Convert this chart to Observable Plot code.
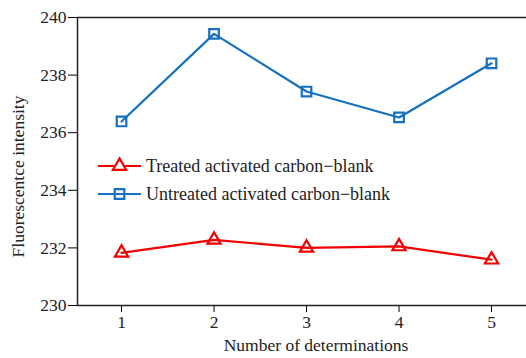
<!DOCTYPE html>
<html><head><meta charset="utf-8">
<script src="https://cdn.jsdelivr.net/npm/d3@7"></script>
<script src="https://cdn.jsdelivr.net/npm/@observablehq/plot@0.6"></script>
<style>
body{margin:0;background:#fff;}
#wrap{position:relative;width:526px;height:358px;font-family:"Liberation Serif","DejaVu Serif",serif;}
#legend{position:absolute;left:98px;top:152px;font-size:18px;color:#222;}
.row{display:flex;align-items:center;height:28px;}
.row svg{margin-right:5px;}
</style></head>
<body><div id="wrap"><div id="chart"></div><div id="legend"></div></div>
<script>
const determinations = [1, 2, 3, 4, 5];
const treated = [231.83, 232.28, 232.0, 232.05, 231.59];
const untreated = [236.39, 239.43, 237.43, 236.53, 238.41];
const seriesNames = ["Treated activated carbon\u2212blank", "Untreated activated carbon\u2212blank"];
const seriesColors = ["#f00000", "#1570be"];
const seriesSymbols = ["triangle", "square"];
const seriesRadius = [4.9, 5.4];
const yTicks = [230, 232, 234, 236, 238, 240];
const xDomain = [0.524, 5.378];
const yDomain = [230, 240];

const rows = [];
determinations.forEach((d, i) => {
  rows.push({n: d, v: treated[i], s: seriesNames[0], r: seriesRadius[0]});
  rows.push({n: d, v: untreated[i], s: seriesNames[1], r: seriesRadius[1]});
});

const serif = "Liberation Serif, DejaVu Serif, serif";
const chart = Plot.plot({
  width: 526, height: 358,
  marginLeft: 77, marginRight: 0, marginTop: 17, marginBottom: 53,
  x: {domain: xDomain},
  y: {domain: yDomain},
  r: {type: "identity"},
  color: {domain: seriesNames, range: seriesColors},
  symbol: {domain: seriesNames, range: seriesSymbols},
  marks: [
    Plot.axisY({ticks: yTicks, tickSize: 9, tickPadding: 2, label: null, fill: "#222", fontFamily: serif, fontSize: 17.5}),
    Plot.axisX({ticks: determinations, tickSize: 7, tickPadding: 3, label: null, fill: "#222", fontFamily: serif, fontSize: 17.5, tickFormat: d => String(d)}),
    Plot.ruleX([xDomain[0]], {stroke: "#222", strokeWidth: 1.5}),
    Plot.ruleY([yDomain[0], yDomain[1]], {stroke: "#222", strokeWidth: 1.5}),
    Plot.line(rows, {x: "n", y: "v", z: "s", stroke: "s", strokeWidth: 2.2}),
    Plot.dot(rows, {x: "n", y: "v", stroke: "s", symbol: "s", fill: "none", strokeWidth: 2.2, r: "r"}),
    Plot.text(["Number of determinations"], {frameAnchor: "bottom", dx: 14, dy: 45, fontSize: 17.5, fontFamily: serif, fill: "#222"}),
    Plot.text(["Fluorescentce intensity"], {frameAnchor: "left", textAnchor: "middle", rotate: -90, dx: -59, dy: 15, fontSize: 17.5, fontFamily: serif, fill: "#222"})
  ]
});
document.getElementById("chart").appendChild(chart);

const legend = document.getElementById("legend");
seriesNames.forEach((name, i) => {
  const row = document.createElement("div");
  row.className = "row";
  const sym = d3.symbol(i === 0 ? d3.symbolTriangle : d3.symbolSquare, Math.PI * seriesRadius[i] * seriesRadius[i])();
  row.innerHTML = `<svg width="43" height="20" viewBox="0 0 43 20"><line x1="0" y1="10" x2="43" y2="10" stroke="${seriesColors[i]}" stroke-width="2.2"/><path transform="translate(21.5,10)" d="${sym}" fill="${i === 0 ? "white" : "none"}" stroke="${seriesColors[i]}" stroke-width="2.2"/></svg><span>${name}</span>`;
  legend.appendChild(row);
});
</script></body></html>
